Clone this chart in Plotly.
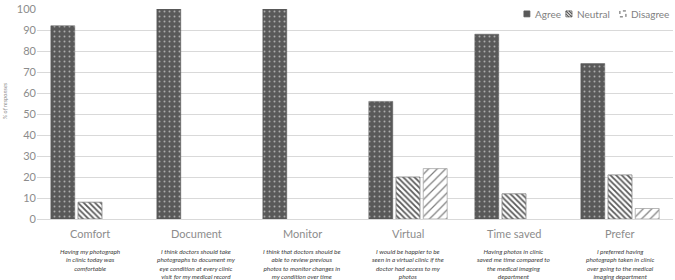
import plotly.graph_objects as go

categories = ["Comfort", "Document", "Monitor", "Virtual", "Time saved", "Prefer"]
agree = [92, 100, 100, 56, 88, 74]
neutral = [8, 0, 0, 20, 12, 21]
disagree = [0, 0, 0, 24, 0, 5]
series_names = ["Agree", "Neutral", "Disagree"]
descriptions = [
    "Having my photograph<br>in clinic today was<br>comfortable",
    "I think doctors should take<br>photographs to document my<br>eye condition at every clinic<br>visit for my medical record",
    "I think that doctors should be<br>able to review previous<br>photos to monitor changes in<br>my condition over time",
    "I would be happier to be<br>seen in a virtual clinic if the<br>doctor had access to my<br>photos",
    "Having photos in clinic<br>saved me time compared to<br>the medical imaging<br>department",
    "I preferred having<br>photograph taken in clinic<br>over going to the medical<br>imaging department",
]
y_ticks = [0, 10, 20, 30, 40, 50, 60, 70, 80, 90, 100]

FONT = "Lato"


def lw(vals, w):
    return [w if v > 0 else 0 for v in vals]


fig = go.Figure()
fig.add_bar(x=categories, y=agree, name=series_names[0], showlegend=False,
            marker=dict(color="#595959", line=dict(color="#595959", width=lw(agree, 0.5)),
                        pattern=dict(shape=".", fgcolor="#ffffff", bgcolor="#595959",
                                     size=5, solidity=0.12, fillmode="overlay")))
fig.add_bar(x=categories, y=neutral, name=series_names[1], showlegend=False,
            marker=dict(color="#ffffff", line=dict(color="#7f7f7f", width=lw(neutral, 0.8)),
                        pattern=dict(shape="\\", fgcolor="#595959", bgcolor="#ffffff",
                                     size=4, solidity=0.45, fillmode="replace")))
fig.add_bar(x=categories, y=disagree, name=series_names[2], showlegend=False,
            marker=dict(color="#ffffff", line=dict(color="#a6a6a6", width=lw(disagree, 0.8)),
                        pattern=dict(shape="/", fgcolor="#7f7f7f", bgcolor="#ffffff",
                                     size=6, solidity=0.2, fillmode="replace")))

for c, d in zip(categories, descriptions):
    fig.add_annotation(x=c, y=-0.068, xref="x", yref="paper", text=c, showarrow=False,
                       yanchor="middle", font=dict(family=FONT, size=11, color="#8c8c8c"))
    fig.add_annotation(x=c, y=-0.128, xref="x", yref="paper", text="<i>" + d + "</i>",
                       showarrow=False, yanchor="top", align="center",
                       font=dict(family=FONT, size=6.4, color="#404040"))

fig.add_annotation(x=-0.052, y=0.565, xref="paper", yref="paper", text="<i>% of responses</i>",
                   showarrow=False, textangle=-90, xanchor="center", yanchor="middle",
                   font=dict(family=FONT, size=6, color="#8c8c8c"))

# custom compact legend (keys + labels) in paper coordinates
ky0, ky1 = 0.9626, 0.9907
sh = -0.008
keys = [(0.7736 + sh, 0.7830 + sh, 0.7877 + sh), (0.8396 + sh, 0.8491 + sh, 0.8538 + sh),
        (0.9245 + sh, 0.9340 + sh, 0.9387 + sh)]
fig.add_shape(type="rect", xref="paper", yref="paper", x0=keys[0][0], x1=keys[0][1], y0=ky0, y1=ky1,
              fillcolor="#595959", line=dict(color="#595959", width=0.8))
fig.add_shape(type="rect", xref="paper", yref="paper", x0=keys[1][0], x1=keys[1][1], y0=ky0, y1=ky1,
              fillcolor="#ffffff", line=dict(color="#595959", width=0.8))
xm = (keys[1][0] + keys[1][1]) / 2
fig.add_shape(type="line", xref="paper", yref="paper", x0=keys[1][0], x1=keys[1][1], y0=ky1, y1=ky0,
              line=dict(color="#595959", width=1.2))
fig.add_shape(type="line", xref="paper", yref="paper", x0=keys[1][0], x1=xm, y0=(ky0 + ky1) / 2, y1=ky0,
              line=dict(color="#595959", width=1.2))
fig.add_shape(type="line", xref="paper", yref="paper", x0=xm, x1=keys[1][1], y0=ky1, y1=(ky0 + ky1) / 2,
              line=dict(color="#595959", width=1.2))
fig.add_shape(type="rect", xref="paper", yref="paper", x0=keys[2][0], x1=keys[2][1], y0=ky0, y1=ky1,
              fillcolor="#ffffff", line=dict(color="#595959", width=1, dash="dot"))
for name, k in zip(series_names, keys):
    fig.add_annotation(x=k[2], y=(ky0 + ky1) / 2, xref="paper", yref="paper", text=name,
                       showarrow=False, xanchor="left", yanchor="middle",
                       font=dict(family=FONT, size=10, color="#7f7f7f"))

fig.update_layout(
    width=675, height=280,
    margin=dict(l=37, r=2, t=5, b=61),
    paper_bgcolor="white", plot_bgcolor="white",
    barmode="group", bargap=0.23, bargroupgap=0.12,
    font=dict(family=FONT, color="#8c8c8c"),
    showlegend=False,
    xaxis=dict(showticklabels=False, showgrid=False, showline=True, linecolor="#d9d9d9",
               ticks=""),
    yaxis=dict(range=[0, 100], tickvals=y_ticks, gridcolor="#d9d9d9", gridwidth=1,
               zeroline=False, showline=False, ticklabeloverflow="allow",
               tickfont=dict(family=FONT, size=11, color="#8c8c8c")),
)
fig.write_html("out.html", config={"displayModeBar": False},
               post_script="document.body.style.margin='0';document.body.style.overflow='hidden';")
